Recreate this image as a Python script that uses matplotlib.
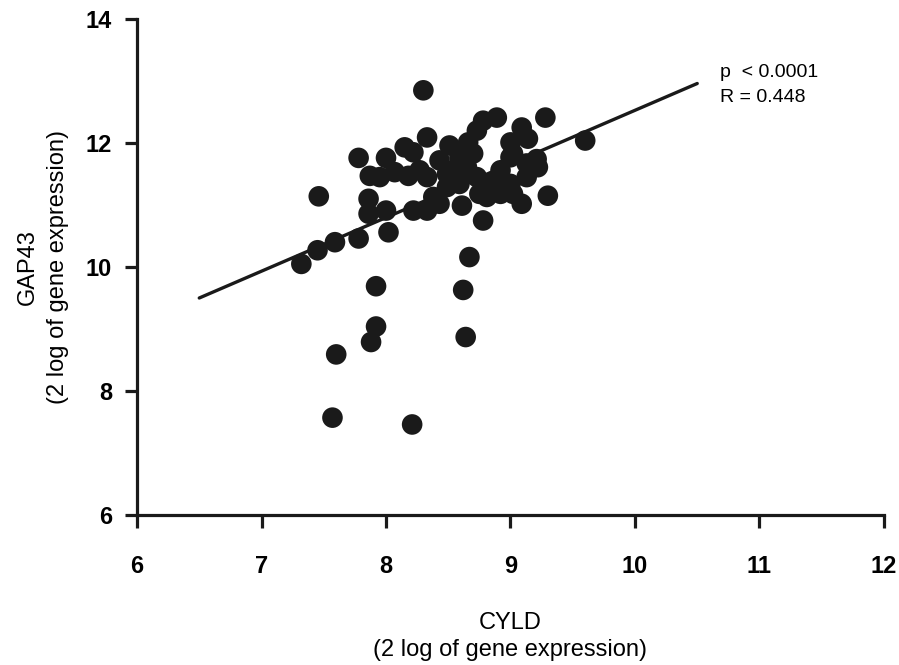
import matplotlib
matplotlib.use("Agg")
import matplotlib.pyplot as plt

plt.rcParams["font.family"] = ["Liberation Sans", "DejaVu Sans"]

# CYLD vs GAP43 expression (2log)
cyld = [8.30, 7.46, 7.78, 7.87, 7.86, 7.86, 8.00, 8.02, 7.78, 7.59, 7.45, 7.32,
        8.00, 8.15, 8.22, 8.33, 8.07, 8.27, 8.51, 8.78, 8.89, 8.73, 8.66, 9.09,
        9.14, 9.28, 9.60, 9.00, 9.02, 9.21, 9.22, 9.13, 9.30, 9.09, 9.02, 8.78,
        8.67, 8.61, 8.43, 8.33, 8.22, 8.38, 8.54, 8.65, 8.73, 8.81, 8.89, 9.00,
        8.49, 8.59, 8.75, 8.43, 8.59, 8.70, 9.00, 9.13, 8.18, 7.95, 8.33, 8.49,
        8.92, 8.81, 8.92, 7.92, 7.92, 7.88, 7.60, 7.57, 8.21, 8.62, 8.64]
gap43 = [12.85, 11.14, 11.76, 11.47, 11.10, 10.86, 10.91, 10.56, 10.46, 10.40, 10.27, 10.05,
         11.76, 11.93, 11.85, 12.09, 11.53, 11.56, 11.96, 12.36, 12.41, 12.20, 12.01, 12.25,
         12.07, 12.41, 12.04, 12.01, 11.83, 11.74, 11.61, 11.45, 11.15, 11.02, 11.18, 10.75,
         10.16, 10.99, 11.02, 10.91, 10.91, 11.13, 11.56, 11.61, 11.45, 11.34, 11.39, 11.34,
         11.29, 11.34, 11.18, 11.72, 11.77, 11.83, 11.77, 11.67, 11.47, 11.45, 11.45, 11.50,
         11.56, 11.13, 11.18, 9.69, 9.04, 8.79, 8.59, 7.57, 7.46, 9.63, 8.87]

# Fitted regression line end points
fit_x = [6.5, 10.5]
fit_y = [9.50, 12.96]

x_ticks = [6, 7, 8, 9, 10, 11, 12]
y_ticks = [6, 8, 10, 12, 14]

fig = plt.figure(figsize=(8.99, 6.65), dpi=100)
ax = fig.add_axes([0.1524, 0.2256, 0.8309, 0.7458])

ink = "#1a1a1a"
ax.scatter(cyld, gap43, s=220, color=ink, edgecolors="none", zorder=3)
ax.plot(fit_x, fit_y, color=ink, lw=2.4, zorder=2, solid_capstyle="round")

ax.set_xlim(6, 12)
ax.set_ylim(6, 14)
ax.set_xticks(x_ticks)
ax.set_yticks(y_ticks)
ax.set_xticklabels([str(t) for t in x_ticks], fontsize=17, fontweight="bold")
ax.set_yticklabels([str(t) for t in y_ticks], fontsize=17, fontweight="bold")

for side in ("top", "right"):
    ax.spines[side].set_visible(False)
for side in ("left", "bottom"):
    ax.spines[side].set_linewidth(2.3)
    ax.spines[side].set_color(ink)
ax.tick_params(direction="out", length=9, width=2.3, color=ink)
ax.tick_params(axis="x", pad=20)
ax.tick_params(axis="y", pad=9)

ax.set_xlabel("CYLD\n(2 log of gene expression)", fontsize=17, labelpad=24, linespacing=1.3)
ax.set_ylabel("GAP43\n(2 log of gene expression)", fontsize=17, labelpad=12, linespacing=1.45)

ax.text(10.68, 13.13, "p  < 0.0001", fontsize=14, va="center", ha="left")
ax.text(10.68, 12.73, "R = 0.448", fontsize=14, va="center", ha="left")

fig.savefig("out.png", dpi=100)
